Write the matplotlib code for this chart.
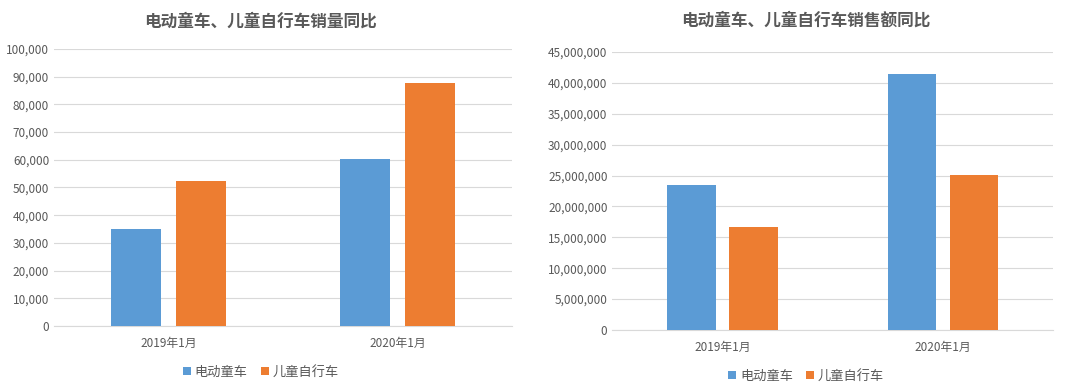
import numpy as np
import matplotlib.pyplot as plt
from matplotlib.ticker import FuncFormatter

plt.rcParams['font.family'] = ['Noto Sans CJK SC', 'DejaVu Sans']

# datos
categorias = ['2019年1月', '2020年1月']
series = ['电动童车', '儿童自行车']
ventas_cantidad = {'电动童车': [35000, 60300], '儿童自行车': [52500, 87800]}
ventas_monto = {'电动童车': [23500000, 41400000], '儿童自行车': [16700000, 25100000]}

colores = ['#5b9bd5', '#ed7d31']
gris = '#595959'

fig = plt.figure(figsize=(10.8, 3.91), dpi=100)

def grafico(ax, datos, titulo, ymax, paso, xcentro, pad_titulo):
    x = np.arange(len(categorias))
    ancho = 0.22
    sep = 0.062
    for i, s in enumerate(series):
        off = (i - 0.5) * (ancho + sep)
        ax.bar(x + off, datos[s], width=ancho, color=colores[i], label=s, zorder=3)
    ax.set_xlim(-0.5, len(categorias) - 0.5)
    ax.set_ylim(0, ymax)
    ax.set_yticks(np.arange(0, ymax + 1, paso))
    ax.yaxis.set_major_formatter(FuncFormatter(lambda v, p: f'{int(v):,}'))
    ax.set_xticks(x)
    ax.set_xticklabels(categorias)
    ax.grid(axis='y', color='#d9d9d9', linewidth=0.8, zorder=0)
    for sp in ['top', 'right', 'left']:
        ax.spines[sp].set_visible(False)
    ax.spines['bottom'].set_color('#d9d9d9')
    ax.tick_params(axis='both', length=0, colors=gris, labelsize=8.5)
    ax.tick_params(axis='x', pad=8)
    ax.set_title(titulo, color=gris, fontsize=12, fontweight='bold', pad=pad_titulo, x=xcentro)
    ax.legend(loc='upper center', bbox_to_anchor=(xcentro, -0.10), ncol=2, frameon=False,
              fontsize=9.5, labelcolor=gris, handlelength=0.6, handleheight=0.6,
              handletextpad=0.3, columnspacing=1.0)

ax1 = fig.add_axes([0.05, 0.166, 0.424, 0.709])
grafico(ax1, ventas_cantidad, '电动童车、儿童自行车销量同比', 100000, 10000, 0.452, 16)

ax2 = fig.add_axes([0.567, 0.156, 0.408, 0.711])
grafico(ax2, ventas_monto, '电动童车、儿童自行车销售额同比', 45000000, 5000000, 0.44, 19)

plt.savefig('out.png', dpi=100)
